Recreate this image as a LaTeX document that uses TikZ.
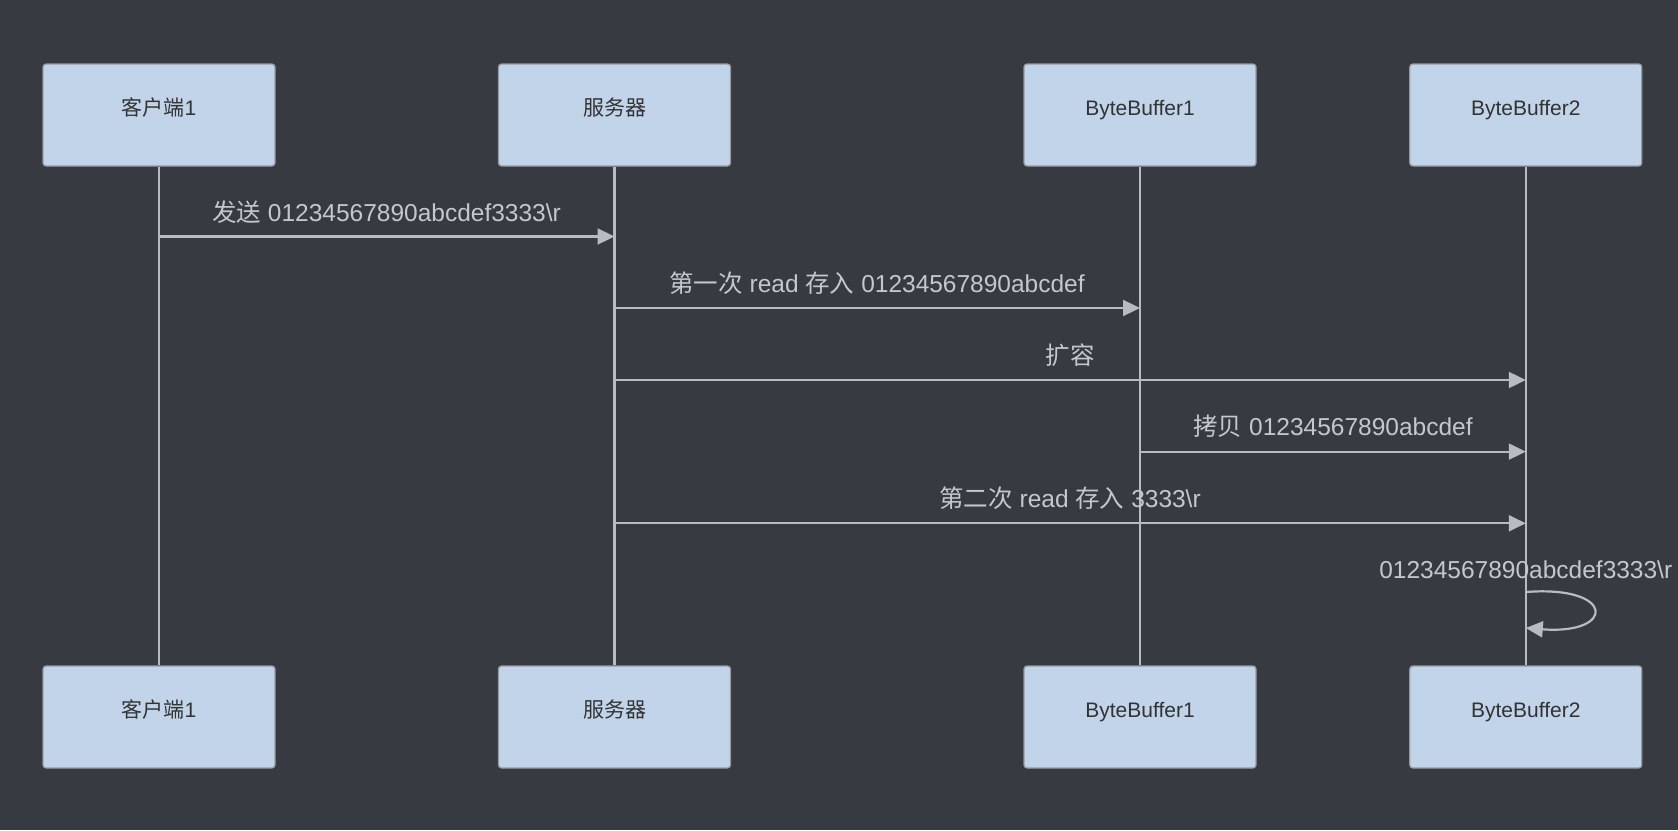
\documentclass[tikz,border=0pt]{standalone}
\usepackage{fontspec}
\setmainfont{Liberation Sans}
\newfontfamily\cjk{Noto Sans CJK SC}
\usetikzlibrary{arrows.meta}
\definecolor{bgc}{RGB}{55,58,64}
\definecolor{boxfill}{RGB}{193,212,233}
\definecolor{boxdraw}{RGB}{150,155,162}
\definecolor{linec}{RGB}{184,187,193}
\definecolor{labelc}{RGB}{196,199,204}
\definecolor{boxtext}{RGB}{51,51,51}
\tikzset{
  actor/.style={draw=boxdraw, line width=1.2pt, fill=boxfill, rounded corners=3pt,
    minimum width=232pt, minimum height=102pt, inner sep=0pt,
    text=boxtext, font=\fontsize{21}{24}\selectfont, text height=16pt, text depth=16pt},
  lifeline/.style={draw=linec, line width=2.2pt},
  msg/.style={draw=linec, line width=2.2pt, -{Triangle[length=17pt,width=16pt]}},
  msglabel/.style={text=labelc, font=\fontsize{24.5}{27}\selectfont, inner sep=0pt}
}
\begin{document}
\begin{tikzpicture}[x=1pt,y=-1pt]
\useasboundingbox (0,0) rectangle (1678,830);
\fill[bgc] (0,0) rectangle (1678,830);
% top actors
\node[actor] (a1) at (159,115) {{\cjk 客户端}1};
\node[actor] (a2) at (614.5,115) {{\cjk 服务器}};
\node[actor] (a3) at (1140,115) {ByteBuffer1};
\node[actor] (a4) at (1525.8,115) {ByteBuffer2};
% bottom actors
\node[actor] (b1) at (159,717) {{\cjk 客户端}1};
\node[actor] (b2) at (614.5,717) {{\cjk 服务器}};
\node[actor] (b3) at (1140,717) {ByteBuffer1};
\node[actor] (b4) at (1525.8,717) {ByteBuffer2};
% lifelines
\draw[lifeline] (a1.south) -- (b1.north);
\draw[lifeline] (a2.south) -- (b2.north);
\draw[lifeline] (a3.south) -- (b3.north);
\draw[lifeline] (a4.south) -- (b4.north);
% message end points
\coordinate (m1s) at (159,236.5);   \coordinate (m1e) at (614.5,236.5);
\coordinate (m2s) at (614.5,308);   \coordinate (m2e) at (1140,308);
\coordinate (m3s) at (614.5,380);   \coordinate (m3e) at (1525.8,380);
\coordinate (m4s) at (1140,451.6);  \coordinate (m4e) at (1525.8,451.6);
\coordinate (m5s) at (614.5,523.3); \coordinate (m5e) at (1525.8,523.3);
\coordinate (l1s) at (1525.8,592);  \coordinate (l1e) at (1525.8,628);
% messages
\draw[msg] (m1s) -- (m1e);
\node[msglabel] (t1) at (386.5,212) {{\cjk 发送} 01234567890abcdef3333\textbackslash r};
\draw[msg] (m2s) -- (m2e);
\node[msglabel] (t2) at (877,283.5) {{\cjk 第一次} read {\cjk 存入} 01234567890abcdef};
\draw[msg] (m3s) -- (m3e);
\node[msglabel] (t3) at (1070,355) {{\cjk 扩容}};
\draw[msg] (m4s) -- (m4e);
\node[msglabel] (t4) at (1333,426.5) {{\cjk 拷贝} 01234567890abcdef};
\draw[msg] (m5s) -- (m5e);
\node[msglabel] (t5) at (1070,498.5) {{\cjk 第二次} read {\cjk 存入} 3333\textbackslash r};
\draw[msg] (l1s) .. controls (1616,585) and (1616,635) .. (l1e);
\node[msglabel] (t6) at (1525.8,569.5) {01234567890abcdef3333\textbackslash r};
\end{tikzpicture}
\end{document}
